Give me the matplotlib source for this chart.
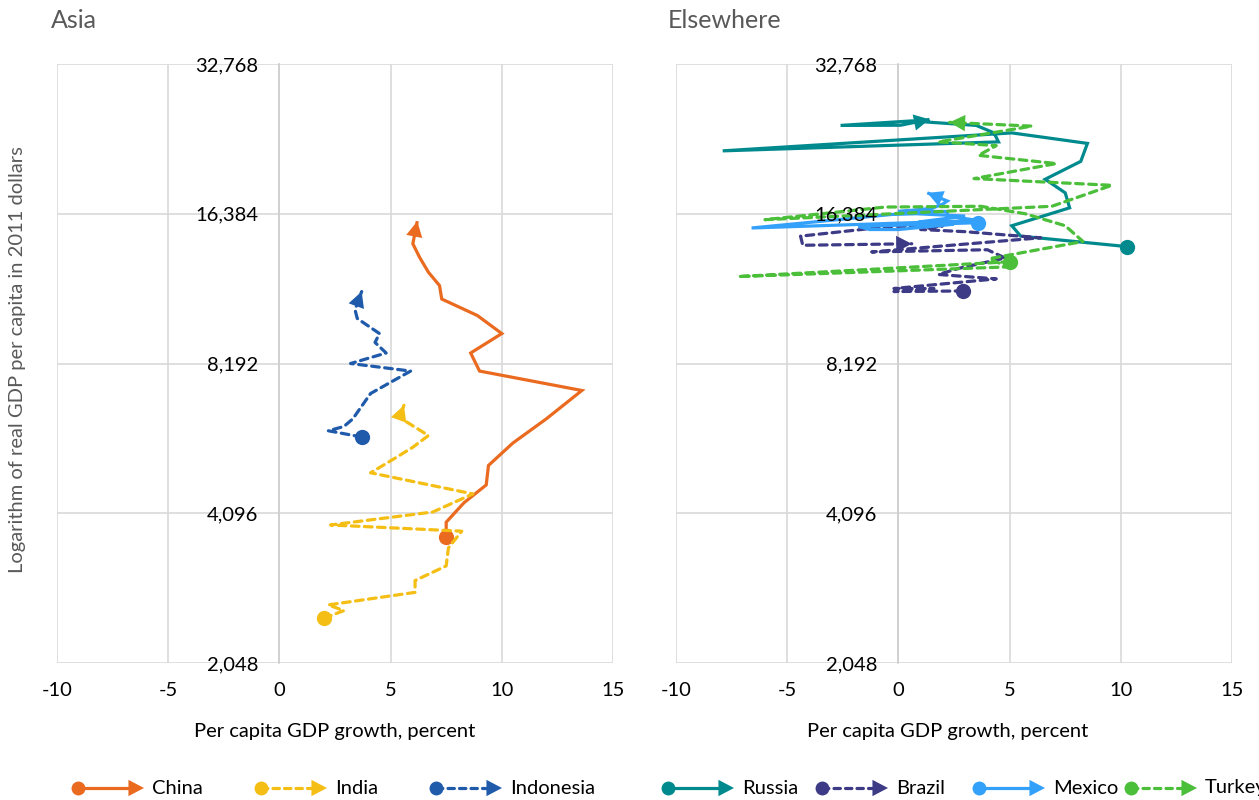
import matplotlib
matplotlib.use("Agg")
import matplotlib.pyplot as plt
from matplotlib.ticker import FixedLocator, FuncFormatter, NullLocator

plt.rcParams['font.family'] = ['Lato', 'DejaVu Sans']
plt.rcParams['axes.unicode_minus'] = False

# ---------------- data (growth %, GDP per capita in 2011 $) ----------------
china_growth = [7.5, 7.5, 8.3, 9.3, 9.4, 10.5, 12.0, 13.6, 9.0, 8.6, 10.0, 8.9, 7.3, 7.2, 6.7, 6.3, 6.0, 6.2]
china_gdp = [3670, 3930, 4300, 4670, 5110, 5670, 6340, 7230, 7910, 8600, 9410, 10230, 11040, 11750, 12500, 13400, 14260, 15830]

india_growth = [2.0, 2.9, 2.2, 6.1, 6.1, 7.5, 7.6, 8.2, 2.3, 6.9, 8.7, 4.1, 5.0, 6.0, 6.7, 5.4, 5.6]
india_gdp = [2520, 2610, 2680, 2840, 3000, 3210, 3490, 3770, 3880, 4120, 4480, 4940, 5220, 5560, 5870, 6380, 6750]

indonesia_growth = [3.7, 2.2, 2.9, 3.3, 4.1, 5.9, 3.2, 4.8, 4.3, 4.5, 3.5, 3.4, 3.7]
indonesia_gdp = [5830, 6000, 6120, 6340, 7130, 7910, 8192, 8600, 9030, 9410, 10090, 10510, 11430]

russia_growth = [10.3, 5.5, 5.1, 7.7, 7.5, 6.6, 8.2, 8.5, 5.1, -7.9, 4.5, 4.3, 3.5, 1.5, 0.6, -2.6, 0.1, 1.4]
russia_gdp = [14070, 14770, 15500, 16840, 18050, 19220, 20880, 22690, 23820, 21920, 22850, 23820, 24660, 25010, 25180, 24660, 24680, 25360]

brazil_growth = [2.9, -0.2, 1.6, -0.2, 4.4, 1.8, 2.7, 4.8, 4.0, -1.2, 6.4, 3.0, 1.0, 2.0, -0.4, -4.4, -4.3, 0.6]
brazil_gdp = [11460, 11430, 11590, 11590, 12120, 12370, 12720, 13350, 13870, 13730, 14660, 15080, 15230, 15500, 15450, 14770, 14160, 14260]

mexico_growth = [3.6, -1.8, -1.3, 0.0, 2.5, 0.9, 3.0, 0.8, -0.3, -6.6, 3.6, 2.2, 2.2, 0.0, 1.5, 2.0, 2.2, 1.3]
mexico_gdp = [15720, 15450, 15230, 15230, 15610, 15770, 16210, 16384, 16330, 15340, 15880, 16210, 16560, 16560, 16790, 17140, 17380, 18050]

turkey_growth = [5.0, -7.2, 4.9, 4.1, 8.3, 7.5, 5.7, 3.7, -0.6, -6.0, 6.9, 9.6, 3.4, 7.1, 3.6, 4.4, 1.8, 6.0, 2.3]
turkey_gdp = [13120, 12250, 12810, 13310, 14410, 15500, 16384, 16960, 16900, 15940, 16960, 18690, 19280, 20670, 21470, 22460, 22850, 24580, 25010]

y_ticks = [2048, 4096, 8192, 16384, 32768]
x_ticks = [-10, -5, 0, 5, 10, 15]

# ---------------- styles ----------------
C_CHINA = '#EA6A20'
C_INDIA = '#F4BE14'
C_INDO = '#1F5BAA'
C_RUSSIA = '#008A8E'
C_BRAZIL = '#3E3B86'
C_MEXICO = '#33A0FA'
C_TURKEY = '#4BBE3A'
GRID = '#D9D9D9'
GRAY = '#595959'
FS = 14.5

series_left = [
    ('China', china_growth, china_gdp, C_CHINA, '-'),
    ('India', india_growth, india_gdp, C_INDIA, '--'),
    ('Indonesia', indonesia_growth, indonesia_gdp, C_INDO, '--'),
]
series_right = [
    ('Russia', russia_growth, russia_gdp, C_RUSSIA, '-'),
    ('Brazil', brazil_growth, brazil_gdp, C_BRAZIL, '--'),
    ('Mexico', mexico_growth, mexico_gdp, C_MEXICO, '-'),
    ('Turkey', turkey_growth, turkey_gdp, C_TURKEY, '--'),
]

W, H = 1259, 800
fig = plt.figure(figsize=(W / 100, H / 100), dpi=100)


def px_axes(x0, x1, y0, y1):
    return fig.add_axes([x0 / W, 1 - y1 / H, (x1 - x0) / W, (y1 - y0) / H])


LW = 2.3
ARROW = dict(arrowstyle='-|>,head_length=0.8,head_width=0.42', lw=0,
             shrinkA=0, shrinkB=0, mutation_scale=14)


def draw_series(ax, xs, ys, color, ls):
    kw = dict(color=color, lw=LW, solid_capstyle='butt', solid_joinstyle='miter', zorder=2)
    if ls == '--':
        kw.update(dashes=(2.4, 1.7), dash_capstyle='round')
    ax.plot(xs, ys, **kw)
    ax.plot([xs[0]], [ys[0]], 'o', color=color, ms=11, mec='none', zorder=2)
    ax.annotate('', xy=(xs[-1], ys[-1]), xytext=(xs[-2], ys[-2]),
                arrowprops=dict(ARROW, color=color), zorder=2)


def setup(ax):
    ax.set_yscale('log', base=2)
    ax.set_xlim(-10, 15)
    ax.set_ylim(2048, 32768)
    ax.yaxis.set_major_locator(FixedLocator(y_ticks))
    ax.yaxis.set_minor_locator(NullLocator())
    ax.yaxis.set_major_formatter(FuncFormatter(lambda v, p: f'{v:,.0f}'))
    ax.set_xticks(x_ticks)
    ax.set_xticklabels([str(v) for v in x_ticks])
    ax.set_axisbelow(False)  # tick labels above the data lines
    # gridlines drawn below the data
    for v in y_ticks:
        ax.axhline(v, color=GRID, lw=1.2, zorder=0.5)
    for v in x_ticks:
        ax.axvline(v, color=GRID, lw=1.2, zorder=0.5)
    for s in ['top', 'right', 'bottom']:
        ax.spines[s].set_visible(False)
    ax.spines['left'].set_position(('data', 0))
    ax.spines['left'].set_color('#CFCFCF')
    ax.spines['left'].set_linewidth(1.2)
    ax.spines['left'].set_zorder(0.6)
    ax.tick_params(axis='y', length=0, pad=15, labelsize=FS, labelcolor='black')
    ax.tick_params(axis='x', length=0, pad=14, labelsize=FS, labelcolor='black')


axL = px_axes(57, 613, 64, 663)
axR = px_axes(676, 1232, 64, 663)
for ax, ser in ((axL, series_left), (axR, series_right)):
    setup(ax)
    for name, xs, ys, c, ls in ser:
        draw_series(ax, xs, ys, c, ls)

# titles and labels
fig.text(51 / W, 1 - 20 / H, 'Asia', fontsize=18, color=GRAY, va='center', ha='left')
fig.text(668 / W, 1 - 20 / H, 'Elsewhere', fontsize=18, color=GRAY, va='center', ha='left')
fig.text(18 / W, 1 - 360 / H, 'Logarithm of real GDP per capita in 2011 dollars', rotation=90,
         fontsize=FS, color=GRAY, va='center', ha='center')
fig.text(335 / W, 1 - 731 / H, 'Per capita GDP growth, percent', fontsize=FS, color='black',
         va='center', ha='center')
fig.text(948 / W, 1 - 731 / H, 'Per capita GDP growth, percent', fontsize=FS, color='black',
         va='center', ha='center')

# legend drawn on an overlay in pixel coordinates
lg = fig.add_axes([0, 0, 1, 1])
lg.set_xlim(0, W)
lg.set_ylim(H, 0)
lg.axis('off')
legend_names = ['China', 'India', 'Indonesia', 'Russia', 'Brazil', 'Mexico', 'Turkey']
legend_colors = [C_CHINA, C_INDIA, C_INDO, C_RUSSIA, C_BRAZIL, C_MEXICO, C_TURKEY]
legend_styles = ['-', '--', '--', '-', '--', '-', '--']
legend_x = [78, 261, 436, 668, 822, 979, 1131]
LY = 788
for name, c, ls, x0 in zip(legend_names, legend_colors, legend_styles, legend_x):
    kw = dict(color=c, lw=LW, solid_capstyle='butt')
    if ls == '--':
        kw.update(dashes=(2.0, 1.6), dash_capstyle='round')
    lg.plot([x0, x0 + 58], [LY, LY], **kw)
    lg.plot([x0], [LY], 'o', color=c, ms=10, mec='none')
    lg.annotate('', xy=(x0 + 66, LY), xytext=(x0 + 50, LY), arrowprops=dict(ARROW, color=c))
    lg.text(x0 + 74, LY, name, fontsize=FS, va='center', ha='left', color='black')

fig.savefig('out.png', dpi=100)
